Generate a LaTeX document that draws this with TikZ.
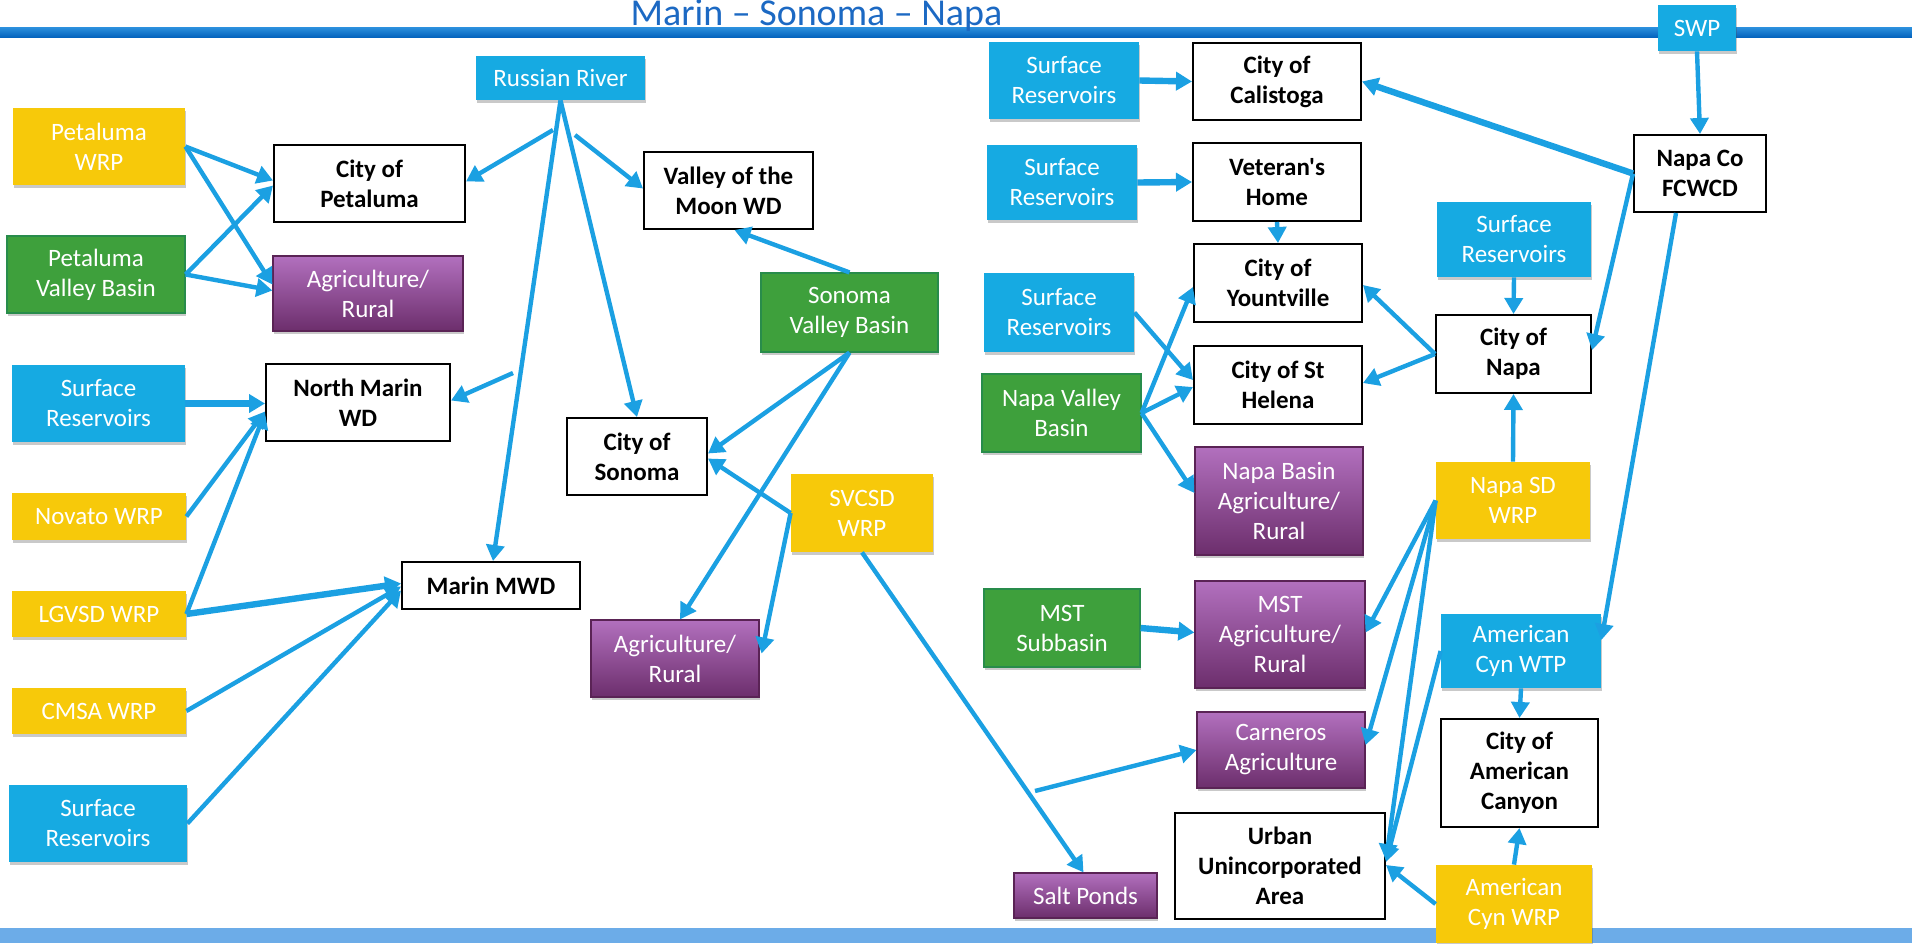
\documentclass[tikz,border=0pt]{standalone}
\usepackage{fontspec}
\setmainfont{Carlito}
\newfontfamily\aposfont{Carlito}[Ligatures=TeXOff]
\usetikzlibrary{arrows.meta,calc,shadows}
\definecolor{cy}{RGB}{22,170,226}
\definecolor{yl}{RGB}{247,201,10}
\definecolor{gr}{RGB}{62,160,60}
\definecolor{grd}{RGB}{40,140,75}
\definecolor{pt}{RGB}{178,112,190}
\definecolor{pb}{RGB}{108,46,108}
\definecolor{pd}{RGB}{90,35,85}
\definecolor{ar}{RGB}{27,160,226}
\definecolor{ttl}{RGB}{28,105,195}
\definecolor{bandt}{RGB}{45,145,222}
\definecolor{bandb}{RGB}{5,100,190}
\definecolor{botbar}{RGB}{108,172,232}
\begin{document}
\begin{tikzpicture}[x=0.5pt,y=-0.5pt,
  sz/.style 2 args={minimum width=#1*0.5pt, minimum height=#2*0.5pt},
  box/.style={rectangle, inner sep=0pt, align=center, font=\fontsize{12.5pt}{15pt}\selectfont},
  shad/.style={drop shadow={shadow xshift=0.5pt, shadow yshift=-1.5pt, opacity=0.3, fill=black!70}},
  cyanbox/.style={box, shad, fill=cy, text=white},
  yellowbox/.style={box, shad, fill=yl, text=white},
  greenbox/.style={box, shad, fill=gr, draw=grd, line width=0.6pt, text=white},
  purplebox/.style={box, shad, top color=pt, bottom color=pb, draw=pd, line width=0.6pt, text=white},
  whitebox/.style={box, fill=white, draw=black, line width=1pt, font=\fontsize{12.5pt}{15pt}\selectfont\bfseries},
  arr/.style={draw=ar, line width=2.2pt, -{Triangle[length=8pt,width=9pt]}},
  tarr/.style={arr, line width=3.2pt}
]
\useasboundingbox (0,0) rectangle (1912,943);
% bars
\shade[top color=bandt, bottom color=bandb] (0,27) rectangle (1912,37);
\fill[botbar] (0,928) rectangle (1912,943);
\node[anchor=base, text=ttl, font=\fontsize{19pt}{22pt}\selectfont] (title) at (816.5,25) {Marin -- Sonoma -- Napa};

% ---- left part ----
\node[cyanbox, sz={169}{44}] (rr) at (560.5,78) {Russian River};
\node[yellowbox, sz={172}{77}] (pwrp) at (99,146.5) {Petaluma\\WRP};
\node[whitebox, sz={191}{77}] (cpet) at (369.5,183.5) {City of\\Petaluma};
\node[whitebox, sz={169}{77}] (vmoon) at (728.5,190.5) {Valley of the\\Moon WD};
\node[greenbox, sz={178}{77}] (pvb) at (96,274.5) {Petaluma\\Valley Basin};
\node[purplebox, sz={190}{75}] (ag1) at (368,293.5) {Agriculture/\\Rural};
\node[greenbox, sz={177}{79}] (svb) at (849.5,312.5) {Sonoma\\Valley Basin};
\node[cyanbox, sz={173}{77}] (sr1) at (98.5,403.5) {Surface\\Reservoirs};
\node[whitebox, sz={184}{77}] (nmwd) at (358,402.5) {North Marin\\WD};
\node[whitebox, sz={140}{77}] (csonoma) at (637,456.5) {City of\\Sonoma};
\node[yellowbox, sz={174}{47}] (novato) at (99,516.5) {Novato WRP};
\node[yellowbox, sz={174}{46}] (lgvsd) at (99,614) {LGVSD WRP};
\node[yellowbox, sz={174}{46}] (cmsa) at (99,711) {CMSA WRP};
\node[cyanbox, sz={178}{77}] (sr2) at (98,823.5) {Surface\\Reservoirs};
\node[whitebox, sz={178}{47}] (mmwd) at (491,585.5) {Marin MWD};
\node[yellowbox, sz={142}{78}] (svcsd) at (862,513) {SVCSD\\WRP};
\node[purplebox, sz={168}{77}] (ag2) at (675,658.5) {Agriculture/\\Rural};

% ---- right part ----
\node[cyanbox, sz={78}{46}] (swp) at (1697,28) {SWP};
\node[cyanbox, sz={150}{77}] (sr3) at (1064,80.5) {Surface\\Reservoirs};
\node[whitebox, sz={168}{77}] (calistoga) at (1277,81.5) {City of\\Calistoga};
\node[whitebox, sz={132}{77}] (fcwcd) at (1700,173.5) {Napa Co\\FCWCD};
\node[cyanbox, sz={150}{75}] (sr4) at (1062,182.5) {Surface\\Reservoirs};
\node[whitebox, sz={168}{78}] (vets) at (1277,182) {{\aposfont\bfseries Veteran's}\\Home};
\node[cyanbox, sz={154}{75}] (sr6) at (1514,239.5) {Surface\\Reservoirs};
\node[whitebox, sz={168}{78}] (yount) at (1278,283) {City of\\Yountville};
\node[cyanbox, sz={150}{79}] (sr5) at (1059,312.5) {Surface\\Reservoirs};
\node[whitebox, sz={155}{78}] (cnapa) at (1513.5,354) {City of\\Napa};
\node[whitebox, sz={168}{78}] (sthelena) at (1278,385) {City of St\\Helena};
\node[greenbox, sz={159}{78}] (nvb) at (1061.5,413) {Napa Valley\\Basin};
\node[purplebox, sz={168}{108}] (nbag) at (1279,501) {Napa Basin\\Agriculture/\\Rural};
\node[yellowbox, sz={154}{77}] (napasd) at (1513,500.5) {Napa SD\\WRP};
\node[greenbox, sz={156}{78}] (mst) at (1062,628) {MST\\Subbasin};
\node[purplebox, sz={170}{107}] (mstag) at (1280,634.5) {MST\\Agriculture/\\Rural};
\node[cyanbox, sz={160}{74}] (wtp) at (1521,651) {American\\Cyn WTP};
\node[purplebox, sz={168}{76}] (carneros) at (1281,750) {Carneros\\Agriculture};
\node[whitebox, sz={157}{108}] (cac) at (1519.5,773) {City of\\American\\Canyon};
\node[whitebox, sz={210}{106}] (urban) at (1280,866) {Urban\\Unincorporated\\Area};
\node[purplebox, sz={143}{45}] (salt) at (1085.5,895.5) {Salt Ponds};
\node[yellowbox, sz={156}{78}] (wrp) at (1514,904) {American\\Cyn WRP};

% free connector ends
\coordinate (rrA) at (553,130);
\coordinate (rrB) at (575,135);
\coordinate (rrC) at (513,373);
\coordinate (cA) at (1035,791);

% ---- connectors left ----
\draw[arr] (pwrp.east) -- ($(cpet.west)+(0,-3)$);
\draw[arr] (pwrp.east) -- ($(ag1.west)+(0,-9)$);
\draw[arr] (pvb.east) -- ($(cpet.west)+(0,2)$);
\draw[arr] (pvb.east) -- ($(ag1.west)+(0,-3)$);
\draw[arr] (rrA) -- ($(cpet.east)+(0,-2)$);
\draw[arr] (rrB) -- ($(vmoon.west)+(0,-2)$);
\draw[arr] (rr.south) -- ($(mmwd.north)+(2,0)$);
\draw[arr] (rr.south) -- (csonoma.north);
\draw[arr] (rrC) -- ($(nmwd.east)+(0,-2)$);
\draw[arr] (svb.north) -- ($(vmoon.south)+(6,0)$);
\draw[arr] (svb.south) -- ($(csonoma.east)+(0,-3)$);
\draw[arr] (svb.south) -- ($(ag2.north)+(5,0)$);
\draw[arr] (svcsd.west) -- ($(csonoma.east)+(0,2)$);
\draw[arr] (svcsd.west) -- ($(ag2.east)+(2,-5)$);
\draw[arr] (svcsd.south) -- ($(salt.north)+(-2,0)$);
\draw[arr] (cA) -- (carneros.west);
\draw[tarr] (sr1.east) -- (sr1.east -| nmwd.west);
\draw[arr] (novato.east) -- ($(nmwd.west)+(0,9)$);
\draw[arr] (lgvsd.east) -- ($(nmwd.west)+(0,10)$);
\draw[tarr] (lgvsd.east) -- ($(mmwd.west)+(0,-2)$);
\draw[arr] (cmsa.east) -- ($(mmwd.west)+(0,1)$);
\draw[arr] (sr2.east) -- ($(mmwd.west)+(0,5)$);

% ---- connectors right ----
\draw[tarr] (sr3.east) -- (calistoga.west);
\draw[tarr] (fcwcd.west) -- (calistoga.east);
\draw[arr] (swp.south) -- (fcwcd.north);
\draw[tarr] (sr4.east) -- (vets.west);
\draw[arr] (vets.south) -- (yount.north);
\draw[arr] (fcwcd.west) -- ($(cnapa.east)+(0,-4)$);
\draw[arr] ($(fcwcd.south)+(-24,0)$) -- ($(wtp.east)+(0,-11)$);
\draw[arr] (sr6.south) -- (cnapa.north);
\draw[arr] (cnapa.west) -- ($(yount.east)+(0,2)$);
\draw[arr] (cnapa.west) -- ($(sthelena.east)+(0,-2)$);
\draw[arr] (sr5.east) -- ($(sthelena.west)+(0,-5)$);
\draw[arr] (nvb.east) -- ($(yount.west)+(0,4)$);
\draw[arr] (nvb.east) -- ($(sthelena.west)+(0,2)$);
\draw[arr] (nvb.east) -- ($(nbag.west)+(0,-8)$);
\draw[arr] (napasd.north) -- (cnapa.south);
\draw[arr] (napasd.west) -- ($(mstag.east)+(0,-2)$);
\draw[arr] (napasd.west) -- ($(carneros.east)+(0,-5)$);
\draw[arr] (napasd.west) -- ($(urban.east)+(0,-6)$);
\draw[arr] (wtp.west) -- ($(urban.east)+(0,-4)$);
\draw[tarr] (mst.east) -- ($(mstag.west)+(0,-2)$);
\draw[arr] (wtp.south) -- (cac.north);
\draw[arr] (wrp.north) -- (cac.south);
\draw[arr] (wrp.west) -- ($(urban.east)+(0,-1)$);
\end{tikzpicture}
\end{document}
